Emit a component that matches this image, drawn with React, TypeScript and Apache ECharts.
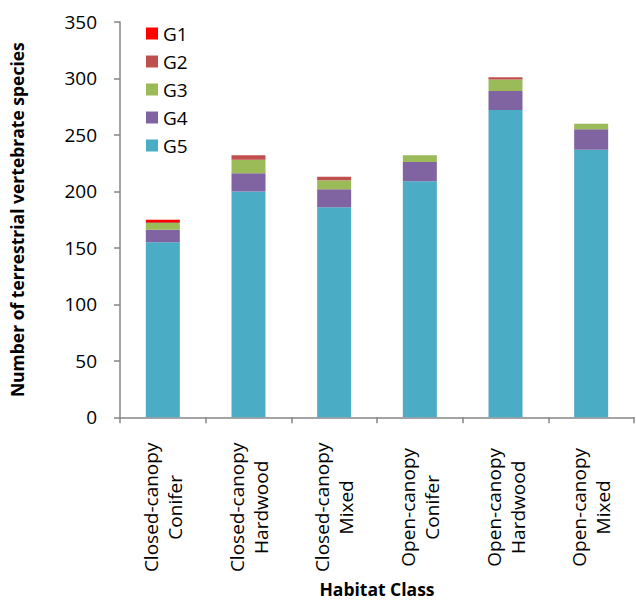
import React, { useEffect, useRef } from "react";
import * as echarts from "echarts";

const categories = [
  "Closed-canopy\nConifer",
  "Closed-canopy\nHardwood",
  "Closed-canopy\nMixed",
  "Open-canopy\nConifer",
  "Open-canopy\nHardwood",
  "Open-canopy\nMixed",
];
const g5 = [155, 200, 186, 209, 272, 237];
const g4 = [11, 16, 16, 17, 17, 18];
const g3 = [6, 12, 8, 6, 10, 5];
const g2 = [1, 4, 3, 0, 2, 0];
const g1 = [2, 0, 0, 0, 0, 0];
const yTicks = { min: 0, max: 350, interval: 50 };

const FONT = "Open Sans";

export default function App() {
  const ref = useRef<HTMLDivElement>(null);
  useEffect(() => {
    const chart = echarts.init(ref.current!, null, { renderer: "svg" });
    const mk = (name: string, data: number[], color: string) => ({
      name,
      type: "bar",
      stack: "total",
      data,
      barWidth: 34,
      itemStyle: { color },
    });
    chart.setOption({
      animation: false,
      textStyle: { fontFamily: FONT },
      grid: { left: 120, right: 2, top: 22, bottom: 182, containLabel: false },
      legend: {
        data: ["G1", "G2", "G3", "G4", "G5"],
        orient: "vertical",
        left: 146,
        top: 24,
        padding: 0,
        itemWidth: 12,
        itemHeight: 12,
        itemGap: 9,
        icon: "rect",
        textStyle: { fontFamily: FONT, fontSize: 19, color: "#000" },
      },
      xAxis: {
        type: "category",
        data: categories,
        name: "Habitat Class",
        nameLocation: "middle",
        nameGap: 160,
        nameTextStyle: { fontFamily: FONT, fontSize: 17.5, fontWeight: "bold", color: "#000" },
        axisLine: { lineStyle: { color: "#868686", width: 1.5 } },
        axisTick: { show: true, length: 6, lineStyle: { color: "#868686", width: 1.5 } },
        axisLabel: {
          rotate: 90,
          align: "center",
          verticalAlign: "middle",
          margin: 90,
          interval: 0,
          fontFamily: FONT,
          fontSize: 19,
          lineHeight: 24,
          color: "#000",
        },
      },
      yAxis: {
        type: "value",
        ...yTicks,
        name: "Number of terrestrial vertebrate species",
        nameLocation: "middle",
        nameGap: 94,
        nameTextStyle: { fontFamily: FONT, fontSize: 17.5, fontWeight: "bold", color: "#000" },
        splitLine: { show: false },
        axisLine: { show: true, lineStyle: { color: "#868686", width: 1.5 } },
        axisTick: { show: true, length: 6, lineStyle: { color: "#868686", width: 1.5 } },
        axisLabel: { fontFamily: FONT, fontSize: 19, color: "#000", margin: 23 },
      },
      series: [
        mk("G5", g5, "#4BACC6"),
        mk("G4", g4, "#8064A2"),
        mk("G3", g3, "#9BBB59"),
        mk("G2", g2, "#C0504D"),
        mk("G1", g1, "#FF0000"),
      ],
    });
    return () => chart.dispose();
  }, []);
  return (
    <div
      ref={ref}
      style={{ position: "absolute", left: 0, top: 0, width: 636, height: 603 }}
    />
  );
}
